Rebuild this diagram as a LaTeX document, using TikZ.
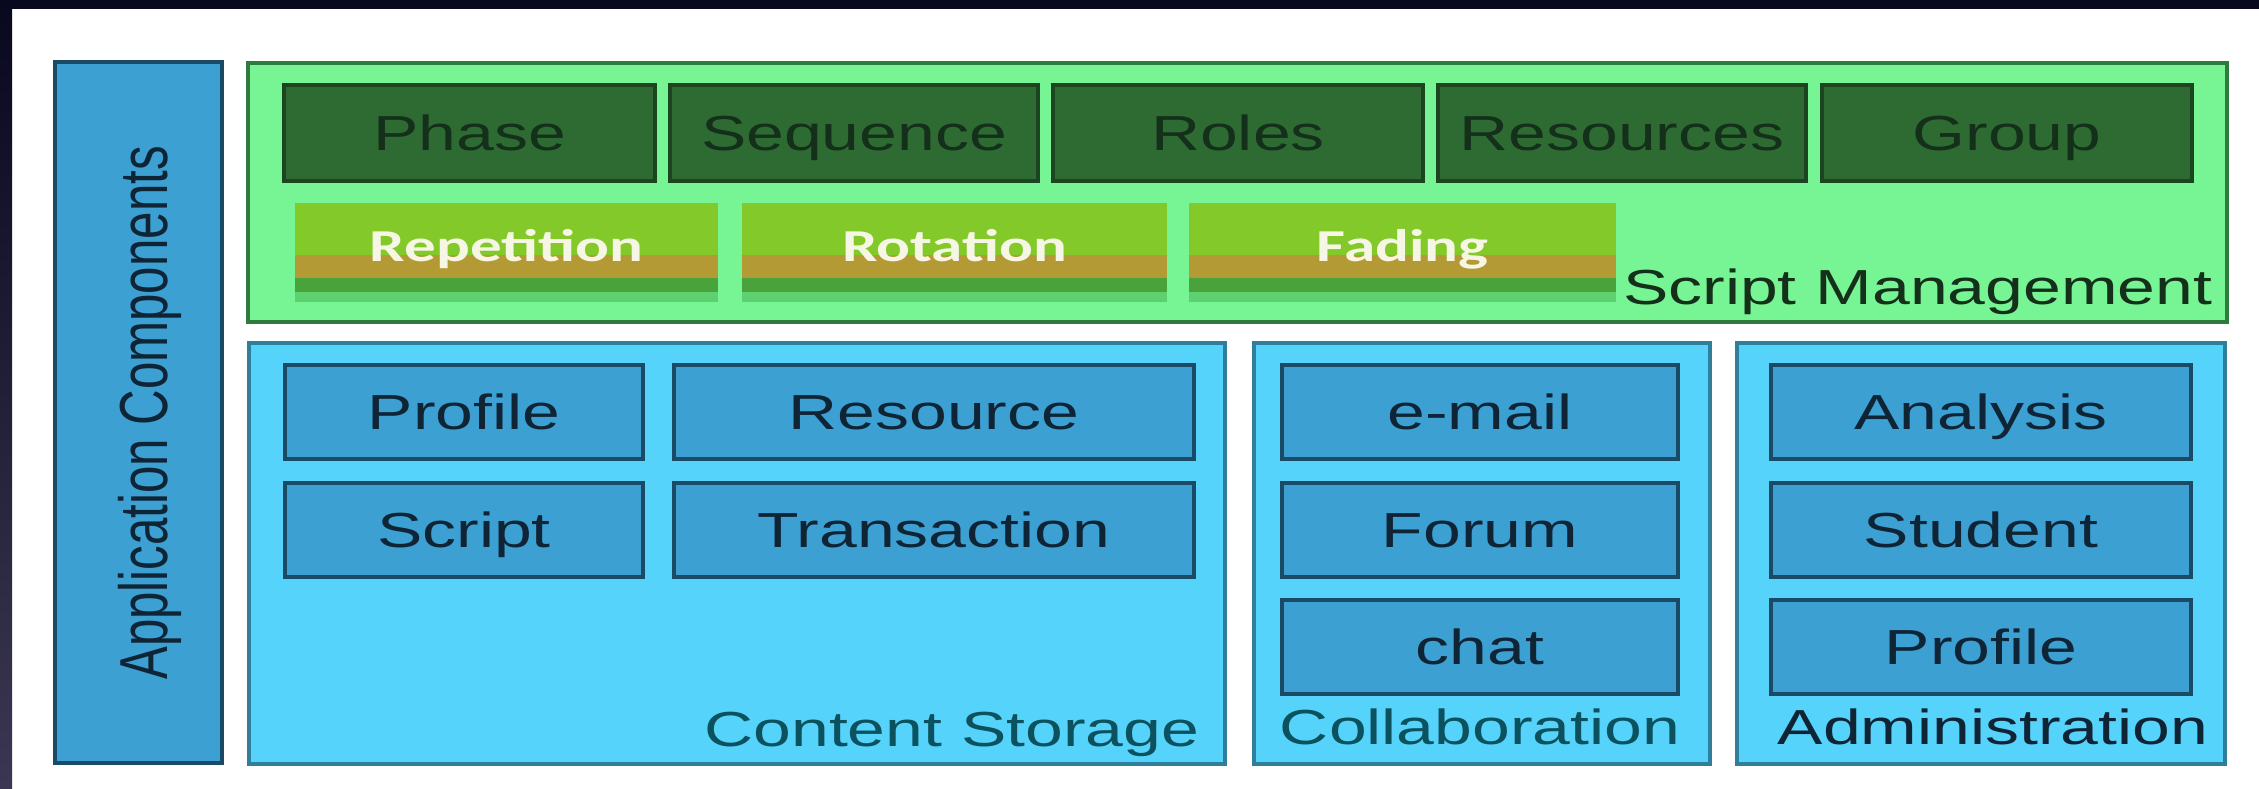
\documentclass[tikz,border=0pt]{standalone}
\usepackage{fontspec}
\usepackage{graphicx}
\setmainfont{Liberation Sans}[FakeStretch=1.38]
\newfontfamily\plainsans{Liberation Sans}
\newfontfamily\barfont{Carlito}[FakeStretch=1.38]
\definecolor{navy}{HTML}{08081F}
\definecolor{slate}{HTML}{3B3752}
\definecolor{smfill}{HTML}{77F595}
\definecolor{smline}{HTML}{2F7A3E}
\definecolor{dkgreen}{HTML}{2E6B33}
\definecolor{dkline}{HTML}{1D4420}
\definecolor{tabtext}{HTML}{15301A}
\definecolor{lime}{HTML}{84C92A}
\definecolor{ochre}{HTML}{B39A35}
\definecolor{midgreen}{HTML}{4AA23A}
\definecolor{palegreen}{HTML}{5FD070}
\definecolor{cream}{HTML}{F6F6E4}
\definecolor{cyanfill}{HTML}{56D3FB}
\definecolor{cyanline}{HTML}{2D7F9C}
\definecolor{bluefill}{HTML}{3DA0D3}
\definecolor{blueline}{HTML}{1B4A66}
\definecolor{bluetext}{HTML}{0F2536}
\newcommand\stripebar[4]{% left x, right x, node name, label
  \fill[lime] (#1,203) rectangle (#2,255);
  \fill[ochre] (#1,255) rectangle (#2,278);
  \fill[midgreen] (#1,278) rectangle (#2,292);
  \fill[palegreen] (#1,292) rectangle (#2,302);
  \node[bartxt] (#3) at ({(#1+#2)/2},262) {#4};}

\begin{document}
\begin{tikzpicture}[x=0.01cm, y=-0.01cm,
    every node/.style={inner sep=0pt},
    appbar/.style={draw=blueline, fill=bluefill, line width=1.4pt},
    sm/.style={draw=smline, fill=smfill, line width=1.2pt},
    tab/.style={draw=dkline, fill=dkgreen, line width=1.2pt, text=tabtext,
      font=\fontsize{14}{16}\selectfont, text height=10pt, text depth=0pt},
    pane/.style={draw=cyanline, fill=cyanfill, line width=1.2pt},
    item/.style={draw=blueline, fill=bluefill, line width=1.2pt, text=bluetext,
      font=\fontsize{14}{16}\selectfont, text height=10pt, text depth=0pt},
    panelbl/.style={anchor=base east, font=\fontsize{14}{16}\selectfont},
    bartxt/.style={anchor=base, text=cream, font=\barfont\bfseries\fontsize{13}{15}\selectfont}]

  \useasboundingbox (0,0) rectangle (2259,789);
  \fill[navy] (0,0) rectangle (2259,9); %% top edge
  \shade[top color=navy, bottom color=slate] (0,0) rectangle (12,789); %% left edge

  % application components
  \draw[appbar] (55,62) rectangle (222,763);
  \node[rotate=90, anchor=base, text=bluetext, font=\plainsans\fontsize{14}{16}\selectfont]
    (app) at (167,413) {\scalebox{1}[1.38]{Application Components}};

  % script management
  \draw[sm] (248,63) rectangle (2227,322);
  \draw[tab] (470,133) node (phase) {Phase} +(-186,-48) rectangle +(185,48);
  \draw[tab] (854,133) node (sequence) {Sequence} +(-184,-48) rectangle +(184,48);
  \draw[tab] (1238,133) node (roles) {Roles} +(-185,-48) rectangle +(185,48);
  \draw[tab] (1622,133) node (resources) {Resources} +(-184,-48) rectangle +(184,48);
  \draw[tab] (2007,133) node (group) {Group} +(-185,-48) rectangle +(185,48);
  \stripebar{295}{718}{repetition}{Repetition}
  \stripebar{742}{1167}{rotation}{Rotation}
  \stripebar{1189}{1616}{fading}{Fading}
  \node[panelbl, text=tabtext] (smlbl) at (2213,305) {Script Management};

  % content storage
  \draw[pane] (249,343) rectangle (1225,764);
  \draw[item] (464,412) node (profile) {Profile} +(-179,-47) rectangle +(179,47);
  \draw[item] (934,412) node (resource) {Resource} +(-260,-47) rectangle +(260,47);
  \draw[item] (464,530) node (script) {Script} +(-179,-47) rectangle +(179,47);
  \draw[item] (934,530) node (transaction) {Transaction} +(-260,-47) rectangle +(260,47);
  \node[panelbl, text=bluetext!80!cyan] (cslbl) at (1200,747) {Content Storage};

  % collaboration
  \draw[pane] (1254,343) rectangle (1710,764);
  \draw[item] (1480,412) node (email) {e-mail} +(-198,-47) rectangle +(198,47);
  \draw[item] (1480,530) node (forum) {Forum} +(-198,-47) rectangle +(198,47);
  \draw[item] (1480,647) node (chat) {chat} +(-198,-47) rectangle +(198,47);
  \node[panelbl, text=bluetext!80!cyan] (collbl) at (1681,745) {Collaboration};

  % administration
  \draw[pane] (1737,343) rectangle (2225,764);
  \draw[item] (1981,412) node (analysis) {Analysis} +(-210,-47) rectangle +(210,47);
  \draw[item] (1981,530) node (student) {Student} +(-210,-47) rectangle +(210,47);
  \draw[item] (1981,647) node (adprofile) {Profile} +(-210,-47) rectangle +(210,47);
  \node[panelbl, text=bluetext] (admlbl) at (2209,745) {Administration};

\end{tikzpicture}
\end{document}
